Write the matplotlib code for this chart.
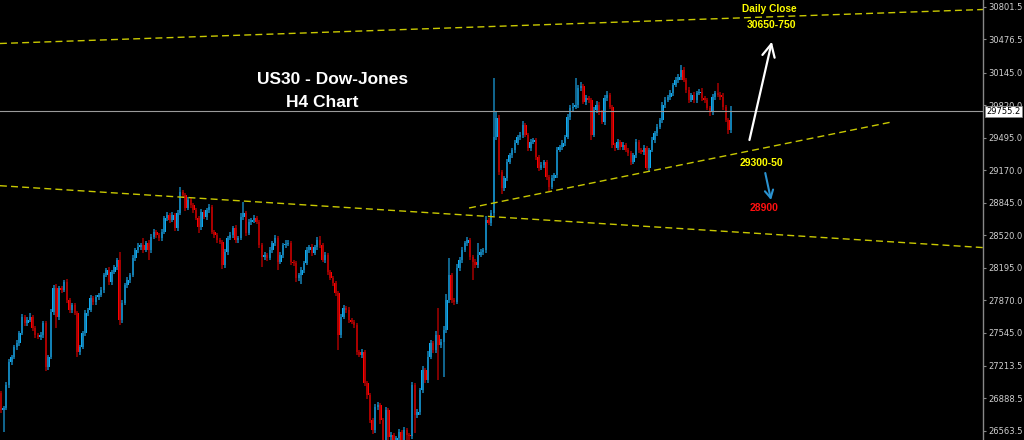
import numpy as np
import matplotlib.pyplot as plt

# US30 H4 candles, prices
first_open = 26940
closes = [
    26770, 26790, 27020, 27250, 27300, 27400, 27440, 27540, 27700, 27640,
    27670, 27700, 27590, 27520, 27500, 27520, 27640, 27200, 27300, 27750,
    27990, 27700, 27990, 27970, 28050, 27870, 27770, 27820, 27740, 27350,
    27400, 27540, 27740, 27770, 27890, 27850, 27900, 27920, 27970, 28120,
    28170, 28050, 28150, 28200, 28270, 27670, 27840, 28020, 28070, 28120,
    28290, 28370, 28400, 28420, 28370, 28440, 28370, 28500, 28550, 28520,
    28490, 28550, 28690, 28720, 28670, 28720, 28590, 28740, 28950, 28920,
    28790, 28870, 28820, 28770, 28690, 28600, 28750, 28700, 28770, 28800,
    28550, 28520, 28470, 28450, 28220, 28350, 28490, 28520, 28590, 28470,
    28490, 28700, 28740, 28540, 28650, 28670, 28690, 28650, 28420, 28300,
    28320, 28290, 28370, 28440, 28490, 28250, 28320, 28420, 28430, 28440,
    28250, 28240, 28090, 28120, 28170, 28240, 28370, 28400, 28340, 28400,
    28470, 28420, 28270, 28320, 28150, 28090, 28040, 27940, 27520, 27700,
    27790, 27770, 27670, 27650, 27620, 27350, 27320, 27350, 27040, 26920,
    26670, 26570, 26800, 26820, 26670, 26470, 26770, 26500, 26520, 26470,
    26490, 26550, 26470, 26570, 26520, 26510, 27020, 26720, 26750, 26970,
    27170, 27070, 27300, 27440, 27370, 27520, 27420, 27450, 27570, 27870,
    28120, 27870, 27850, 28190, 28270, 28370, 28440, 28470, 28300, 28250,
    28220, 28320, 28350, 28370, 28670, 28640, 28740, 29500, 29690, 29150,
    28990, 29090, 29250, 29320, 29370, 29440, 29500, 29520, 29620, 29520,
    29390, 29450, 29470, 29300, 29190, 29220, 29250, 29100, 29000, 29090,
    29120, 29370, 29400, 29440, 29500, 29700, 29790, 29800, 29820, 29990,
    30010, 29850, 29890, 29870, 29520, 29770, 29820, 29750, 29650, 29890,
    29920, 29800, 29420, 29390, 29450, 29400, 29420, 29370, 29340, 29250,
    29320, 29450, 29370, 29350, 29390, 29190, 29370, 29470, 29540, 29600,
    29670, 29820, 29870, 29900, 29940, 30020, 30070, 30100, 30170, 30070,
    29970, 29870, 29920, 29870, 29940, 29950, 29890, 29870, 29790, 29750,
    29900, 29940, 29920, 29900, 29800, 29670, 29570, 29755.2,
]
upper_wick = [
    20, 20, 30, 30, 25, 20, 30, 20, 30, 20,
    30, 40, 20, 20, 25, 30, 20, 20, 20, 30,
    30, 40, 20, 25, 20, 30, 20, 20, 25, 20,
    20, 25, 30, 25, 30, 25, 20, 25, 30, 20,
    25, 30, 20, 25, 20, 80, 30, 25, 30, 20,
    30, 25, 40, 20, 70, 25, 30, 30, 30, 20,
    25, 30, 25, 30, 20, 30, 25, 30, 50, 20,
    20, 30, 25, 20, 25, 20, 30, 25, 20, 30,
    20, 25, 20, 25, 20, 30, 25, 30, 20, 30,
    25, 40, 110, 20, 30, 25, 30, 25, 20, 25,
    30, 25, 30, 25, 30, 20, 30, 25, 40, 30,
    20, 25, 20, 25, 30, 25, 30, 25, 30, 25,
    30, 40, 20, 30, 20, 25, 20, 25, 20, 30,
    30, 25, 30, 20, 25, 20, 25, 30, 20, 25,
    20, 25, 30, 30, 20, 25, 30, 25, 30, 20,
    25, 30, 20, 30, 25, 20, 30, 20, 30, 25,
    40, 25, 60, 30, 20, 40, 270, 30, 40, 60,
    170, 25, 20, 40, 30, 30, 25, 30, 20, 25,
    30, 120, 30, 25, 40, 20, 30, 590, 60, 30,
    25, 20, 30, 25, 20, 30, 25, 30, 40, 20,
    25, 30, 25, 20, 25, 30, 25, 20, 25, 30,
    25, 30, 25, 30, 25, 30, 30, 40, 270, 30,
    40, 25, 30, 25, 20, 30, 40, 30, 25, 30,
    40, 25, 20, 25, 30, 25, 30, 20, 25, 20,
    25, 30, 25, 20, 30, 20, 25, 30, 25, 30,
    25, 30, 30, 25, 30, 25, 30, 30, 50, 30,
    25, 30, 25, 30, 25, 30, 40, 25, 20, 25,
    30, 25, 100, 30, 40, 25, 20, 50,
]
lower_wick = [
    30, 220, 20, 25, 30, 20, 25, 30, 20, 25,
    25, 20, 30, 25, 20, 30, 25, 40, 30, 20,
    30, 110, 25, 30, 20, 25, 30, 25, 20, 50,
    30, 20, 25, 30, 20, 25, 30, 25, 20, 30,
    20, 30, 25, 20, 25, 50, 30, 20, 25, 30,
    20, 30, 25, 30, 25, 20, 100, 25, 20, 30,
    25, 30, 20, 25, 30, 20, 25, 30, 20, 25,
    30, 20, 25, 30, 20, 60, 25, 20, 30, 25,
    20, 30, 25, 20, 40, 25, 30, 20, 25, 30,
    25, 20, 25, 30, 20, 25, 30, 20, 30, 100,
    25, 30, 20, 25, 30, 80, 20, 25, 30, 20,
    25, 30, 40, 25, 90, 30, 20, 25, 30, 20,
    25, 30, 20, 25, 30, 20, 25, 30, 150, 30,
    20, 25, 30, 20, 25, 30, 20, 25, 30, 40,
    30, 40, 25, 30, 40, 60, 30, 50, 40, 60,
    40, 30, 60, 40, 50, 40, 30, 180, 30, 25,
    30, 25, 30, 20, 25, 30, 350, 30, 350, 25,
    30, 25, 30, 20, 25, 30, 20, 25, 30, 180,
    25, 30, 20, 25, 30, 20, 25, 30, 25, 30,
    60, 25, 30, 20, 25, 30, 20, 25, 30, 20,
    25, 30, 20, 25, 30, 20, 25, 30, 40, 20,
    25, 30, 20, 25, 30, 20, 25, 30, 20, 25,
    30, 20, 25, 30, 50, 20, 25, 30, 20, 25,
    30, 20, 25, 30, 20, 25, 30, 20, 25, 30,
    20, 25, 30, 20, 25, 20, 30, 20, 25, 30,
    20, 25, 30, 20, 25, 30, 20, 25, 30, 20,
    25, 30, 20, 25, 30, 20, 25, 30, 20, 40,
    25, 30, 20, 25, 30, 20, 40, 25,
]

price_ticks = [30801.5, 30476.5, 30145.0, 29820.0, 29495.0, 29170.0, 28845.0,
               28520.0, 28195.0, 27870.0, 27545.0, 27213.5, 26888.5, 26563.5]
last_price = 29755.2

# dashed lines, (bar, price) end points
upper_channel = [(-0.4, 30435), (372.7, 30775)]
lower_channel = [(-0.4, 29013), (372.7, 28394)]
support_line = [(177.6, 28790), (338.5, 29653)]

# arrows, (bar, price) tail -> tip
up_arrow = [(284.0, 29470), (292.5, 30453)]
down_arrow = [(290.0, 29140), (292.2, 28870)]

closes = np.array(closes, dtype=float)
opens = np.concatenate([[first_open], closes[:-1]])
highs = np.maximum(opens, closes) + np.array(upper_wick)
lows = np.minimum(opens, closes) - np.array(lower_wick)
x = np.arange(len(closes))
up = closes >= opens
dn = ~up

fig = plt.figure(figsize=(10.24, 4.4), dpi=100, facecolor='black')
ax = fig.add_axes([0, 0, 983 / 1024, 1], facecolor='black')

# wicks then bodies
ax.vlines(x[up], lows[up], highs[up], color='#1478a8', lw=1.2)
ax.vlines(x[dn], lows[dn], highs[dn], color='#980000', lw=1.2)
body = np.maximum(np.abs(closes - opens), 10)
bottom = np.minimum(opens, closes)
ax.bar(x[up], body[up], bottom=bottom[up], width=0.92, color='#0eaaf0', lw=0)
ax.bar(x[dn], body[dn], bottom=bottom[dn], width=0.92, color='#ff0000', lw=0)

ax.axhline(last_price, color='#9a9a9a', lw=0.8)

for line in (upper_channel, lower_channel, support_line):
    ax.plot([p[0] for p in line], [p[1] for p in line], color='#c8c800',
            lw=1.0, dashes=(5, 3))

ax.annotate('', xy=up_arrow[1], xytext=up_arrow[0],
            arrowprops=dict(arrowstyle='->,head_length=0.9,head_width=0.45',
                            color='white', lw=1.6, shrinkA=0, shrinkB=0))
ax.annotate('', xy=down_arrow[1], xytext=down_arrow[0],
            arrowprops=dict(arrowstyle='->,head_length=0.55,head_width=0.3',
                            color='#2a92d0', lw=1.5, shrinkA=0, shrinkB=0))

s = 730 / (len(closes) - 1)
ax.set_xlim(-1 / s, 982 / s)
ax.set_ylim(26470, 30870)

ax.set_xticks([])
ax.yaxis.tick_right()
ax.set_yticks(price_ticks)
ax.set_yticklabels(['%.1f' % v for v in price_ticks])
ax.tick_params(axis='y', colors='#888888', labelcolor='#d0d0d0', length=2.5,
               width=0.8, pad=1.5, labelsize=6)
for side in ('top', 'bottom', 'left'):
    ax.spines[side].set_visible(False)
ax.spines['right'].set_color('#888888')
ax.spines['right'].set_linewidth(1.0)

fig.text(986 / 1024, 1 - 111.5 / 440, '%.1f' % last_price, ha='left', va='center',
         color='black', fontsize=6,
         bbox=dict(boxstyle='square,pad=0.15', fc='white', ec='#888888', lw=0.5))

# labels
fnt = 'Liberation Sans'
fig.text(333 / 1024, 1 - 79 / 440, 'US30 - Dow-Jones', ha='center', va='center',
         color='white', fontsize=12.5, fontweight='bold', family=fnt)
fig.text(322 / 1024, 1 - 102.5 / 440, 'H4 Chart', ha='center', va='center',
         color='white', fontsize=12.5, fontweight='bold', family=fnt)
fig.text(769.5 / 1024, 1 - 9 / 440, 'Daily Close', ha='center', va='center',
         color='#ffff00', fontsize=7.3, fontweight='bold', family=fnt)
fig.text(772 / 1024, 1 - 25.5 / 440, '30650-750', ha='center', va='center',
         color='#ffff00', fontsize=7.5, fontweight='bold', family=fnt)
fig.text(761 / 1024, 1 - 163.5 / 440, '29300-50', ha='center', va='center',
         color='#ffff00', fontsize=7.5, fontweight='bold', family=fnt)
fig.text(764 / 1024, 1 - 208 / 440, '28900', ha='center', va='center',
         color='#ff1010', fontsize=7.5, fontweight='bold', family=fnt)

fig.savefig('out.png', dpi=100, facecolor='black')
